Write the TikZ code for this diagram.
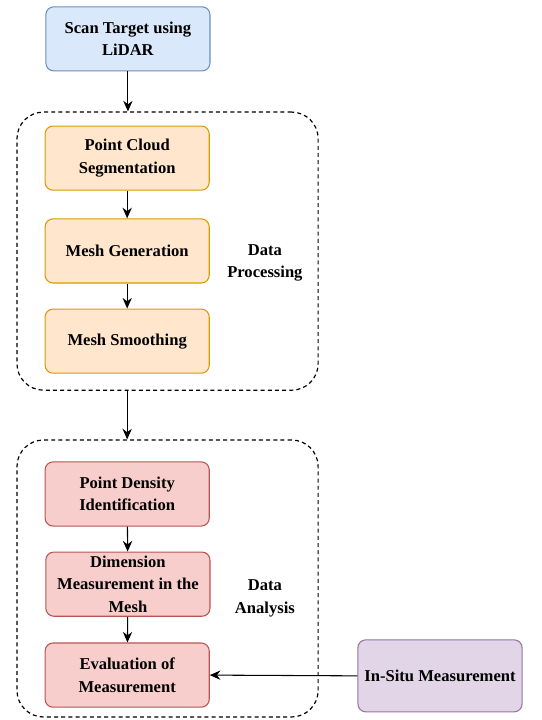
\documentclass[tikz,border=0pt]{standalone}
\usepackage{fontspec}
\setmainfont{Liberation Serif}
\usetikzlibrary{arrows.meta}
\tikzset{>={Stealth[length=8pt,width=7pt]}}

\definecolor{blueFill}{HTML}{DAE8FC}
\definecolor{blueLine}{HTML}{6C8EBF}
\definecolor{orangeFill}{HTML}{FFE6CC}
\definecolor{orangeLine}{HTML}{D79B00}
\definecolor{redFill}{HTML}{F8CECC}
\definecolor{redLine}{HTML}{B85450}
\definecolor{purpleFill}{HTML}{E1D5E7}
\definecolor{purpleLine}{HTML}{9673A6}

\tikzset{
    box/.style = {rectangle, rounded corners=6pt, line width=0.8pt, align=center,
        minimum width=4.35cm, minimum height=1.7cm, inner sep=2pt,
        font=\fontsize{12.5}{17}\selectfont\bfseries},
    scanbox/.style = {box, draw=blueLine, fill=blueFill},
    procbox/.style = {box, draw=orangeLine, fill=orangeFill},
    analbox/.style = {box, draw=redLine, fill=redFill},
    insitubox/.style = {box, draw=purpleLine, fill=purpleFill, minimum height=1.91cm},
    group/.style = {rectangle, draw, dash pattern=on 3pt off 2.4pt, line width=0.9pt,
        rounded corners=20pt, minimum width=7.98cm},
    grouplabel/.style = {align=center, font=\fontsize{12.5}{17}\selectfont\bfseries},
    flow/.style = {->, line width=0.8pt}
}

\begin{document}
\begin{tikzpicture}
    \useasboundingbox (0,0) rectangle (14.36,-19.08);

    % groups
    \node [group, minimum height=7.37cm] (proc) at (4.44,-6.655) {};
    \node [group, minimum height=7.34cm] (anal) at (4.44,-15.33) {};
    \node [grouplabel] (proclabel) at (7.02,-6.97) {Data\\Processing};
    \node [grouplabel] (anallabel) at (7.02,-15.85) {Data\\Analysis};

    % steps
    \node [scanbox] (scan) at (3.39,-1.03) {Scan Target using\\LiDAR};
    \node [procbox] (segment) at (3.37,-4.19) {Point Cloud\\Segmentation};
    \node [procbox] (meshgen) at (3.37,-6.65) {Mesh Generation};
    \node [procbox] (smooth) at (3.37,-9.04) {Mesh Smoothing};
    \node [analbox] (density) at (3.37,-13.09) {Point Density\\Identification};
    \node [analbox] (dimension) at (3.39,-15.48) {Dimension\\Measurement in the\\Mesh};
    \node [analbox] (evaluate) at (3.37,-17.89) {Evaluation of\\Measurement};
    \node [insitubox] (insitu) at (11.66,-17.91) {In-Situ Measurement};

    % arrows
    \draw [flow] (scan.south) -- (scan.south |- proc.north);
    \draw [flow] (segment) -- (meshgen);
    \draw [flow] (meshgen) -- (smooth);
    \draw [flow] (smooth.south |- proc.south) -- (smooth.south |- anal.north);
    \draw [flow] (density) -- (dimension);
    \draw [flow] (dimension) -- (evaluate);
    \draw [flow] (insitu.west) -- (evaluate.east);
\end{tikzpicture}
\end{document}
